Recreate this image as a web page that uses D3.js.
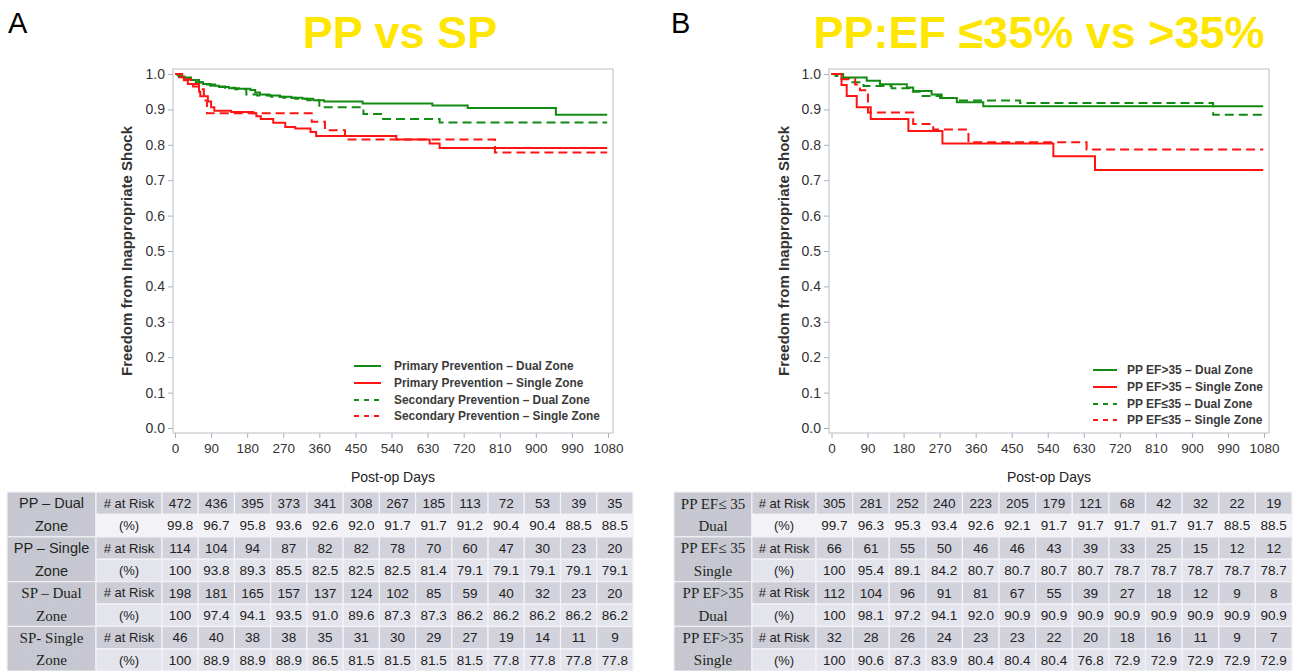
<!DOCTYPE html>
<html>
<head>
<meta charset="utf-8">
<script src="https://cdn.jsdelivr.net/npm/d3@7"></script>
<style>
  body { margin: 0; background: #fff; }
  svg text { font-family: Arial, "Liberation Sans", sans-serif; }
</style>
</head>
<body>
<svg id="chart" width="1296" height="671"></svg>
<script>
// tick values
const dayTicks = [0, 90, 180, 270, 360, 450, 540, 630, 720, 810, 900, 990, 1080];
const survTicks = [0, 0.1, 0.2, 0.3, 0.4, 0.5, 0.6, 0.7, 0.8, 0.9, 1.0];

// panel A curves  [day, survival]
const ppDualA = [[0,1.000],[6,0.998],[14,0.993],[24,0.988],[38,0.983],[52,0.977],[70,0.972],[88,0.967],[110,0.963],[135,0.960],[160,0.958],[188,0.955],[200,0.948],[212,0.942],[235,0.939],[262,0.936],[290,0.933],[318,0.930],[345,0.926],[372,0.922],[468,0.917],[642,0.911],[730,0.904],[950,0.885]];
const ppSingleA = [[0,1.000],[10,0.991],[22,0.982],[32,0.972],[45,0.965],[60,0.950],[63,0.937],[82,0.922],[90,0.906],[98,0.896],[140,0.893],[195,0.889],[203,0.881],[214,0.873],[245,0.862],[275,0.850],[300,0.846],[338,0.836],[352,0.825],[552,0.815],[635,0.804],[660,0.791]];
const spDualA = [[0,1.000],[8,0.996],[22,0.990],[40,0.983],[60,0.976],[80,0.970],[100,0.965],[125,0.961],[150,0.957],[178,0.942],[205,0.939],[240,0.936],[270,0.933],[300,0.930],[330,0.926],[360,0.906],[470,0.887],[519,0.873],[660,0.863]];
const spSingleA = [[0,1.000],[18,0.985],[40,0.972],[60,0.957],[72,0.925],[80,0.889],[341,0.865],[374,0.841],[424,0.815],[798,0.778]];

// panel B curves
const efHiDual = [[0,1.000],[29,0.990],[88,0.981],[121,0.971],[188,0.962],[204,0.952],[250,0.942],[275,0.932],[313,0.920],[379,0.909]];
const efHiSingle = [[0,1.000],[25,0.969],[38,0.938],[63,0.906],[98,0.873],[192,0.839],[277,0.804],[554,0.768],[658,0.729]];
const efLoDual = [[0,1.000],[10,0.994],[20,0.987],[45,0.977],[80,0.966],[150,0.960],[196,0.950],[221,0.938],[271,0.932],[313,0.925],[471,0.918],[953,0.885]];
const efLoSingle = [[0,1.000],[25,0.985],[59,0.970],[71,0.954],[91,0.891],[204,0.859],[254,0.843],[342,0.807],[637,0.787]];

const legendA = ['Primary Prevention \u2013 Dual Zone', 'Primary Prevention \u2013 Single Zone', 'Secondary Prevention \u2013 Dual Zone', 'Secondary Prevention \u2013 Single Zone'];
const legendB = ['PP EF>35 \u2013 Dual Zone', 'PP EF>35 \u2013 Single Zone', 'PP EF\u226435  \u2013 Dual Zone', 'PP EF\u226435 \u2013 Single Zone'];

// at-risk tables
const groupsA = [['PP \u2013 Dual', 'Zone'], ['PP \u2013 Single', 'Zone'], ['SP \u2013 Dual', 'Zone'], ['SP- Single', 'Zone']];
const riskA = [
  [472,436,395,373,341,308,267,185,113,72,53,39,35],
  [114,104,94,87,82,82,78,70,60,47,30,23,20],
  [198,181,165,157,137,124,102,85,59,40,32,23,20],
  [46,40,38,38,35,31,30,29,27,19,14,11,9]
];
const pctA = [
  ['99.8','96.7','95.8','93.6','92.6','92.0','91.7','91.7','91.2','90.4','90.4','88.5','88.5'],
  ['100','93.8','89.3','85.5','82.5','82.5','82.5','81.4','79.1','79.1','79.1','79.1','79.1'],
  ['100','97.4','94.1','93.5','91.0','89.6','87.3','87.3','86.2','86.2','86.2','86.2','86.2'],
  ['100','88.9','88.9','88.9','86.5','81.5','81.5','81.5','81.5','77.8','77.8','77.8','77.8']
];
const groupsB = [['PP EF\u2264 35', 'Dual'], ['PP EF\u2264 35', 'Single'], ['PP EF>35', 'Dual'], ['PP EF>35', 'Single']];
const riskB = [
  [305,281,252,240,223,205,179,121,68,42,32,22,19],
  [66,61,55,50,46,46,43,39,33,25,15,12,12],
  [112,104,96,91,81,67,55,39,27,18,12,9,8],
  [32,28,26,24,23,23,22,20,18,16,11,9,7]
];
const pctB = [
  ['99.7','96.3','95.3','93.4','92.6','92.1','91.7','91.7','91.7','91.7','91.7','88.5','88.5'],
  ['100','95.4','89.1','84.2','80.7','80.7','80.7','80.7','78.7','78.7','78.7','78.7','78.7'],
  ['100','98.1','97.2','94.1','92.0','90.9','90.9','90.9','90.9','90.9','90.9','90.9','90.9'],
  ['100','90.6','87.3','83.9','80.4','80.4','80.4','76.8','72.9','72.9','72.9','72.9','72.9']
];

const green = '#138a13';
const red = '#ff1414';
const serif = '"Liberation Serif", "Times New Roman", serif';
const sans = 'Arial, "Liberation Sans", sans-serif';

const svg = d3.select('#chart');

// faint grid texture for the table header cells
const defs = svg.append('defs');
defs.append('pattern')
  .attr('id', 'grid').attr('width', 3).attr('height', 3)
  .attr('patternUnits', 'userSpaceOnUse')
  .append('path').attr('d', 'M3 0V3M0 3H3')
  .attr('stroke', '#b4b4c0').attr('stroke-width', 0.6).attr('fill', 'none');

const panels = [
  {
    letter: 'A', letterX: 8, title: 'PP vs SP', titleX: 400,
    frame: [173, 69, 613, 433], xRange: [175, 608], yTitleX: 132,
    series: [
      { data: ppDualA, color: green, dash: null },
      { data: ppSingleA, color: red, dash: null },
      { data: spDualA, color: green, dash: '9,5' },
      { data: spSingleA, color: red, dash: '9,5' }
    ],
    legend: { names: legendA, x1: 354, x2: 381, tx: 394, ys: [366, 383, 400, 416], width: 206 },
    table: { groups: groupsA, risk: riskA, pct: pctA, fonts: [sans, sans, serif, serif], x0: 7, labelW: 89, riskW: 66, x1: 633 }
  },
  {
    letter: 'B', letterX: 671, title: 'PP:EF \u226435% vs >35%', titleX: 1039,
    frame: [829, 69, 1269, 433], xRange: [831.5, 1264], yTitleX: 789,
    series: [
      { data: efHiDual, color: green, dash: null },
      { data: efHiSingle, color: red, dash: null },
      { data: efLoDual, color: green, dash: '9,5' },
      { data: efLoSingle, color: red, dash: '9,5' }
    ],
    legend: { names: legendB, x1: 1093, x2: 1117, tx: 1127, ys: [370, 387, 404, 420], width: 136 },
    table: { groups: groupsB, risk: riskB, pct: pctB, fonts: [serif, serif, serif, serif], x0: 674, labelW: 78, riskW: 64, x1: 1292 }
  }
];

const drawPanel = (p) => {
  const [fx0, fy0, fx1, fy1] = p.frame;
  const x = d3.scaleLinear().domain([0, 1080]).range(p.xRange);
  const y = d3.scaleLinear().domain([0, 1]).range([428, 74]);
  const g = svg.append('g');

  g.append('text').attr('x', p.letterX).attr('y', 33)
    .style('font-size', '29px').attr('fill', '#000').text(p.letter);
  g.append('text').attr('x', p.titleX).attr('y', 48).attr('text-anchor', 'middle')
    .style('font-size', '45px').style('font-weight', 'bold').attr('fill', '#ffe600')
    .text(p.title);

  g.append('rect').attr('x', fx0).attr('y', fy0)
    .attr('width', fx1 - fx0).attr('height', fy1 - fy0)
    .attr('fill', 'none').attr('stroke', '#c3cad1').attr('stroke-width', 1.2);

  const yAxis = g.append('g').attr('transform', `translate(${fx0},0)`)
    .call(d3.axisLeft(y).tickValues(survTicks).tickFormat(d3.format('.1f')).tickSize(5).tickPadding(3));
  const xAxis = g.append('g').attr('transform', `translate(0,${fy1})`)
    .call(d3.axisBottom(x).tickValues(dayTicks).tickFormat(d3.format('d')).tickSize(5).tickPadding(5));
  [yAxis, xAxis].forEach((a) => {
    a.select('.domain').remove();
    a.selectAll('line').attr('stroke', '#aab2ba');
    a.selectAll('text').attr('fill', '#333').style('font-size', '13.5px')
      .style('font-family', sans);
  });
  yAxis.selectAll('text').style('font-size', '14px');

  g.append('text')
    .attr('transform', `translate(${p.yTitleX},251) rotate(-90)`)
    .attr('text-anchor', 'middle').style('font-size', '15px').style('font-weight', 'bold')
    .attr('fill', '#333')
    .text('Freedom from Inappropriate Shock');
  g.append('text').attr('x', (fx0 + fx1) / 2).attr('y', 482)
    .attr('text-anchor', 'middle').style('font-size', '14px').attr('fill', '#222')
    .text('Post-op Days');

  const line = d3.line().x((d) => x(d[0])).y((d) => y(d[1])).curve(d3.curveStepAfter);
  p.series.forEach((s) => {
    const pts = s.data.concat([[1078, s.data[s.data.length - 1][1]]]);
    g.append('path').datum(pts).attr('d', line)
      .attr('fill', 'none').attr('stroke', s.color).attr('stroke-width', 2)
      .attr('stroke-dasharray', s.dash);
  });

  // legend
  const lg = p.legend;
  const texts = [];
  p.series.forEach((s, i) => {
    g.append('line').attr('x1', lg.x1).attr('x2', lg.x2)
      .attr('y1', lg.ys[i]).attr('y2', lg.ys[i])
      .attr('stroke', s.color).attr('stroke-width', 2)
      .attr('stroke-dasharray', s.dash ? '5,5' : null);
    texts.push(g.append('text').attr('x', 0).attr('y', 0).attr('dy', '0.35em')
      .style('font-size', '12.5px').style('font-weight', 'bold').attr('fill', '#3a3a3a')
      .text(lg.names[i]));
  });
  const maxW = d3.max(texts, (t) => t.node().getComputedTextLength());
  const sx = Math.min(1, lg.width / maxW);
  texts.forEach((t, i) => t.attr('transform', `translate(${lg.tx},${lg.ys[i]}) scale(${sx},1)`));

  drawTable(p.table);
};

const drawTable = (t) => {
  const top = 492;
  const rowH = 22.4;
  const g = svg.append('g');
  const col = d3.scaleBand().domain(dayTicks).range([t.x0 + t.labelW + t.riskW, t.x1]);
  const border = '#f4f4f7';

  t.groups.forEach((grp, gi) => {
    const yR = top + gi * 2 * rowH;
    const yP = yR + rowH;
    const pctFill = gi === 0 ? '#f3f3f7' : '#e4e4ec';

    g.append('rect').attr('x', t.x0).attr('y', yR).attr('width', t.labelW).attr('height', 2 * rowH)
      .attr('fill', '#c9c9d3').attr('stroke', border).attr('stroke-width', 1.2);
    g.append('rect').attr('x', t.x0).attr('y', yR).attr('width', t.labelW).attr('height', 2 * rowH)
      .attr('fill', 'url(#grid)').attr('opacity', 0.5);

    g.append('rect').attr('x', t.x0 + t.labelW).attr('y', yR).attr('width', t.riskW).attr('height', rowH)
      .attr('fill', '#cfcfd9').attr('stroke', border).attr('stroke-width', 1.2);
    g.append('rect').attr('x', t.x0 + t.labelW).attr('y', yR).attr('width', t.riskW).attr('height', rowH)
      .attr('fill', 'url(#grid)').attr('opacity', 0.35);
    g.append('rect').attr('x', t.x0 + t.labelW).attr('y', yP).attr('width', t.riskW).attr('height', rowH)
      .attr('fill', pctFill).attr('stroke', border).attr('stroke-width', 1.2);

    g.selectAll(null).data(dayTicks).enter().append('rect')
      .attr('x', (d) => col(d)).attr('y', yR).attr('width', col.bandwidth()).attr('height', rowH)
      .attr('fill', '#d2d2dc').attr('stroke', border).attr('stroke-width', 1.2);
    g.selectAll(null).data(dayTicks).enter().append('rect')
      .attr('x', (d) => col(d)).attr('y', yP).attr('width', col.bandwidth()).attr('height', rowH)
      .attr('fill', pctFill).attr('stroke', border).attr('stroke-width', 1.2);

    const lx = t.x0 + t.labelW / 2;
    const isSerif = t.fonts[gi] === serif;
    [0, 1].forEach((k) => {
      g.append('text').attr('x', lx).attr('y', yR + rowH * k + rowH / 2).attr('dy', '0.36em')
        .attr('text-anchor', 'middle').style('font-family', t.fonts[gi])
        .style('font-size', isSerif ? '15px' : '14.5px').attr('fill', '#1c261c')
        .text(grp[k]);
    });
    const rx = t.x0 + t.labelW + t.riskW / 2;
    g.append('text').attr('x', rx).attr('y', yR + rowH / 2).attr('dy', '0.36em')
      .attr('text-anchor', 'middle').style('font-size', '13px').attr('fill', '#222').text('# at Risk');
    g.append('text').attr('x', rx).attr('y', yP + rowH / 2).attr('dy', '0.36em')
      .attr('text-anchor', 'middle').style('font-size', '13px').attr('fill', '#222').text('(%)');

    g.selectAll(null).data(t.risk[gi]).enter().append('text')
      .attr('x', (d, i) => col(dayTicks[i]) + col.bandwidth() / 2).attr('y', yR + rowH / 2)
      .attr('dy', '0.36em').attr('text-anchor', 'middle')
      .style('font-size', '13.5px').attr('fill', '#222').text((d) => d);
    g.selectAll(null).data(t.pct[gi]).enter().append('text')
      .attr('x', (d, i) => col(dayTicks[i]) + col.bandwidth() / 2).attr('y', yP + rowH / 2)
      .attr('dy', '0.36em').attr('text-anchor', 'middle')
      .style('font-size', '13.5px').attr('fill', '#222').text((d) => d);
  });
};

panels.forEach(drawPanel);
</script>
</body>
</html>
